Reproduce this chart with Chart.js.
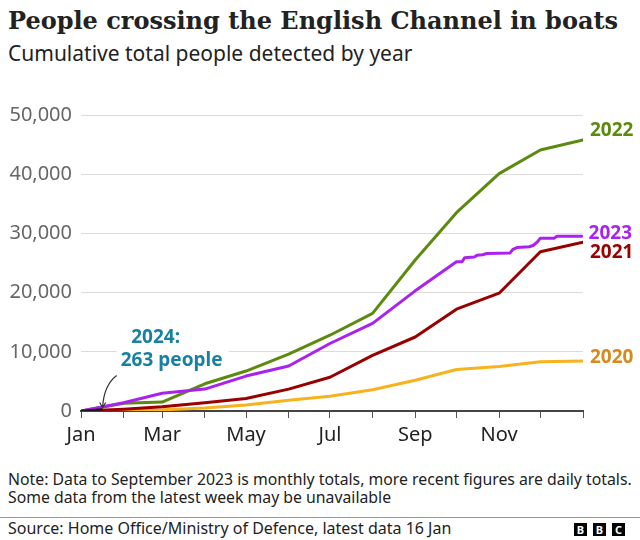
<!DOCTYPE html>
<html>
<head>
<meta charset="utf-8">
<script src="https://cdn.jsdelivr.net/npm/chart.js@4"></script>
<style>
  body { margin: 0; width: 640px; height: 540px; background: #fff; position: relative; overflow: hidden; }
  .txt { position: absolute; left: 8px; white-space: nowrap; color: #222; }
  #title { top: 6px; font: bold 24px "DejaVu Serif"; }
  #sub { top: 39px; font: 21px "Noto Sans"; }
  #note { top: 471px; font: 15.8px "Noto Sans"; line-height: 17.5px; }
  #source { top: 519px; font: 16px "Noto Sans"; line-height: 18px; }
  #rule { position: absolute; left: 0; top: 517px; width: 640px; height: 1px; background: #999; }
  #bbc { position: absolute; left: 574px; top: 523px; }
  #bbc span { display: inline-block; width: 13px; height: 13px; margin-right: 6px; background: #000; color: #fff;
              font: bold 11px "Noto Sans"; line-height: 13px; text-align: center; vertical-align: top; }
  #wrap { position: absolute; left: 0; top: 80px; width: 640px; height: 370px; }
</style>
</head>
<body>
<div id="title" class="txt">People crossing the English Channel in boats</div>
<div id="sub" class="txt">Cumulative total people detected by year</div>
<div id="wrap"><canvas id="chart"></canvas></div>
<div id="note" class="txt">Note: Data to September 2023 is monthly totals, more recent figures are daily totals.<br>Some data from the latest week may be unavailable</div>
<div id="rule"></div>
<div id="source" class="txt">Source: Home Office/Ministry of Defence, latest data 16 Jan</div>
<div id="bbc"><span>B</span><span>B</span><span style="margin-right:0">C</span></div>

<script>
// day of year at the start of each month (last one = end of Dec)
const monthDays = [0, 31, 59, 90, 120, 151, 181, 212, 243, 273, 304, 334, 365];
const tickLabels = ["Jan", "", "Mar", "", "May", "", "Jul", "", "Sep", "", "Nov", "", ""];

// cumulative totals at each month start
const values2020 = [0, 100, 200, 500, 1000, 1800, 2500, 3600, 5200, 7000, 7500, 8300, 8450];
const values2021 = [0, 300, 700, 1400, 2100, 3700, 5700, 9400, 12500, 17200, 19900, 26900, 28500];
const values2022 = [0, 1300, 1500, 4600, 6750, 9600, 12800, 16500, 25500, 33500, 40100, 44100, 45800];
const values2023 = [0, 1400, 3000, 3700, 5900, 7600, 11400, 14800, 20300, 25200];

// 2023 after September: daily figures
const days2023Daily = [273, 277, 279, 286, 288, 292, 295, 312, 314, 317, 326, 329, 332, 334, 344, 346, 364];
const values2023Daily = [25200, 25200, 25900, 26000, 26300, 26400, 26600, 26700, 27300, 27600, 27750, 28000, 28600, 29200, 29200, 29500, 29500];

const days2024 = [0, 15];
const values2024 = [0, 263];

function pts(xs, ys) {
  return xs.map((x, i) => ({ x: x, y: ys[i] }));
}

const data2023 = pts(monthDays.slice(0, values2023.length), values2023)
  .concat(pts(days2023Daily, values2023Daily).slice(1));

// ------------------------------
// END LABELS + 2024 ANNOTATION
// ------------------------------
const endLabels = [
  { ds: 1, text: "2023", color: "#aa22ee", dy: -3 },
  { ds: 2, text: "2022", color: "#5b8a0e", dy: -9 },
  { ds: 3, text: "2021", color: "#990000", dy: 10 },
  { ds: 4, text: "2020", color: "#d68a1e", dy: -3 }
];

const labelsPlugin = {
  id: "endLabels",
  afterDatasetsDraw(chart) {
    const ctx = chart.ctx;
    ctx.save();
    ctx.font = 'bold 19px "Noto Sans"';
    ctx.textBaseline = "middle";
    ctx.textAlign = "left";
    endLabels.forEach((l) => {
      const meta = chart.getDatasetMeta(l.ds);
      const p = meta.data[meta.data.length - 1];
      ctx.fillStyle = l.color;
      ctx.fillText(l.text, p.x + 7, p.y + l.dy);
    });

    // 2024 note
    const m = chart.getDatasetMeta(0);
    const tip = m.data[m.data.length - 1];
    const tx = tip.x + 1, ty = tip.y - 2;

    ctx.fillStyle = "#fff";
    ctx.fillRect(tx + 14, ty - 83, 112, 46);

    ctx.fillStyle = "#1880a0";
    ctx.textAlign = "center";
    ctx.font = 'bold 19px "Noto Sans"';
    ctx.fillText("2024:", tx + 53, ty - 70);
    ctx.fillText("263 people", tx + 69, ty - 47);

    ctx.strokeStyle = "#333";
    ctx.lineWidth = 1.2;
    ctx.beginPath();
    ctx.moveTo(tx + 14, ty - 32);
    ctx.quadraticCurveTo(tx + 1, ty - 22, tx, ty);
    ctx.stroke();
    ctx.beginPath();
    ctx.moveTo(tx - 3, ty - 5);
    ctx.lineTo(tx, ty);
    ctx.lineTo(tx + 3, ty - 5);
    ctx.stroke();
    ctx.restore();
  }
};

function line(label, data, color, width) {
  return {
    label: label,
    data: data,
    borderColor: color,
    borderWidth: width,
    pointRadius: 0,
    tension: 0,
    borderJoinStyle: "round",
    borderCapStyle: "round"
  };
}

new Chart(document.getElementById("chart"), {
  type: "line",
  data: {
    datasets: [
      line("2024", pts(days2024, values2024), "#1a1a1a", 2.5),
      line("2023", data2023, "#aa22ee", 3),
      line("2022", pts(monthDays, values2022), "#5b8a0e", 3),
      line("2021", pts(monthDays, values2021), "#990000", 3),
      line("2020", pts(monthDays, values2020), "#f6b31d", 3)
    ]
  },
  options: {
    responsive: true,
    maintainAspectRatio: false,
    animation: false,
    layout: { padding: { top: 35, right: 57, left: 0, bottom: 0 } },
    plugins: {
      legend: { display: false },
      tooltip: { enabled: false }
    },
    scales: {
      x: {
        type: "linear",
        min: 0,
        max: 365,
        afterBuildTicks: (scale) => {
          scale.ticks = monthDays.map((v) => ({ value: v }));
        },
        afterFit: (scale) => { scale.height = 39; },
        grid: { drawOnChartArea: false, drawTicks: true, tickLength: 7, color: "#555", lineWidth: 1 },
        border: { display: true, color: "#444", width: 2 },
        ticks: {
          autoSkip: false,
          maxRotation: 0,
          padding: 5,
          color: "#222",
          font: { family: "Noto Sans", size: 20 },
          callback: (v, i) => tickLabels[i]
        }
      },
      y: {
        min: 0,
        max: 50000,
        afterFit: (scale) => { scale.width = 81; },
        grid: {
          drawTicks: false,
          color: (c) => (c.tick.value === 0 ? "#444" : "#dcdcdc"),
          lineWidth: 1
        },
        border: { display: false },
        ticks: {
          stepSize: 10000,
          padding: 9,
          color: "#666",
          font: { family: "Noto Sans", size: 20 },
          callback: (v) => v.toLocaleString("en-GB")
        }
      }
    }
  },
  plugins: [labelsPlugin]
});
</script>
</body>
</html>
